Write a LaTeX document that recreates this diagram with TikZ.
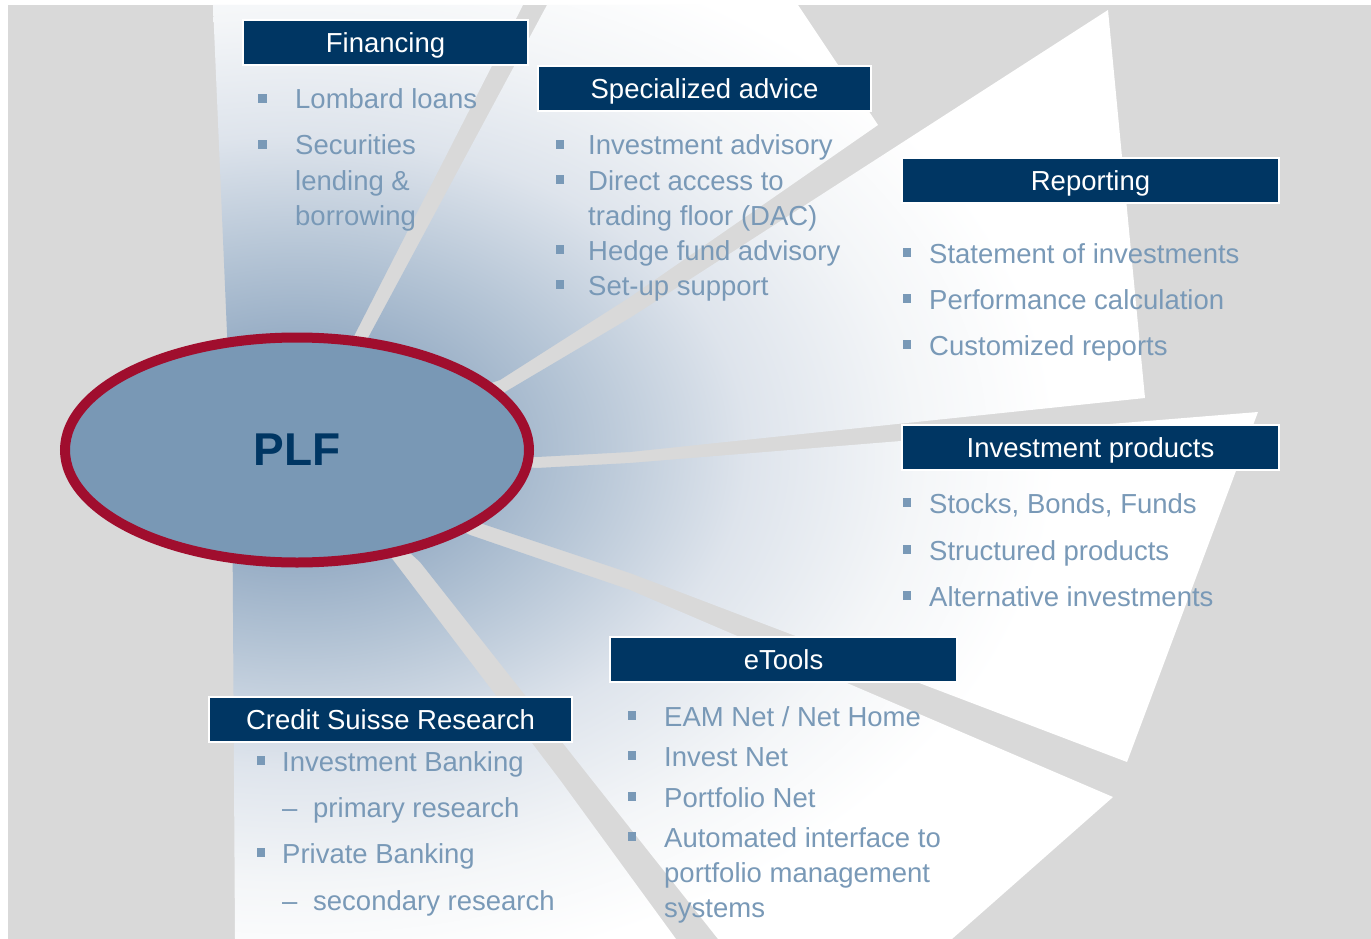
\documentclass[tikz,border=0pt]{standalone}
\usepackage{fontspec}
\setmainfont{Liberation Sans}
\usetikzlibrary{shapes.geometric}

\definecolor{bggray}{RGB}{217,217,217}
\definecolor{csnavy}{RGB}{0,54,99}
\definecolor{itemblue}{RGB}{121,153,183}
\definecolor{plffill}{RGB}{121,152,181}
\definecolor{plfred}{RGB}{160,14,46}
\definecolor{fan0}{RGB}{122,150,180}
\definecolor{fan1}{RGB}{142,166,192}
\definecolor{fan2}{RGB}{180,196,213}
\definecolor{fan3}{RGB}{222,228,236}
\definecolor{fan4}{RGB}{244,246,248}

\pgfdeclareradialshading{fanglow}{\pgfpoint{0bp}{0bp}}{color(0bp)=(fan0); color(2.73bp)=(fan1); color(6.36bp)=(fan2); color(10.23bp)=(fan3); color(14.1bp)=(fan4); color(17.3bp)=(white); color(50bp)=(white)}

\newcommand{\bigfont}{\fontsize{27.5}{33}\selectfont}
\tikzstyle{headbox}=[rectangle,fill=csnavy,draw=white,line width=1.2pt,text=white,minimum height=45pt,inner sep=0pt,text height=19.7pt,text depth=0pt,font=\bigfont]
\tikzstyle{item}=[anchor=base west,inner sep=0pt,text=itemblue,font=\bigfont]
\tikzstyle{bul}=[rectangle,fill=itemblue,minimum size=8.5pt,inner sep=0pt]

\begin{document}
\begin{tikzpicture}[x=1pt,y=-1pt]

\useasboundingbox (0,0) rectangle (1371,939);
\fill[white] (0,0) rectangle (1371,939);
\fill[bggray] (8,5) rectangle (1371,939);

\coordinate (c) at (297,450);

% the six blades of the fan, shaded from the middle outwards
\begin{scope}
  \clip (213,5) -- (523,5) -- (353,338) -- (c) -- (232,450) -- cycle
        (c) -- (368,338) -- (547,5) -- (798,5) -- (878,125) -- (630,297) -- (500,380) -- cycle
        (c) -- (500,395) -- (630,318) -- (1108,10) -- (1145,398) -- (630,452) -- (537,457) -- cycle
        (c) -- (537,468) -- (630,463) -- (1258,412) -- (1127,762) -- (630,573) -- (480,523) -- cycle
        (c) -- (470,535) -- (630,590) -- (1113,797) -- (952,939) -- (718,939) -- (592,780) -- (420,562) -- cycle
        (c) -- (393,560) -- (560,780) -- (676,939) -- (235,939) -- (232,450) -- cycle;
  \shade[shading=fanglow] (c) ellipse [x radius=1100, y radius=770];
\end{scope}

\node[ellipse,draw=plfred,line width=10pt,fill=plffill,minimum width=464pt,minimum height=225pt,inner sep=0pt,text=csnavy,font=\fontsize{46}{50}\selectfont\bfseries] (plf) at (c) {PLF};

\foreach \name/\x/\y/\w/\txt in {fin/385.5/42.5/285/Financing, spec/704.5/88.5/333/Specialized advice, rep/1090.5/180.5/377/Reporting, invp/1090.5/447.5/377/Investment products, etl/783.5/659.5/347/eTools, csr/390.5/719.5/363/Credit Suisse Research}
    \node[headbox,minimum width=\w pt] (\name) at (\x,\y) {\txt};

% Financing
\foreach \name/\y/\txt in {fin1/109/Lombard loans, fin2/155/Securities, fin3/190/lending \&, fin4/225/borrowing}
    \node[item] (\name) at (295,\y) {\txt};
\foreach \y in {109,155}
    \node[bul] (finb\y) at (262.5,\y-10.5) {};

% Specialized advice
\foreach \name/\y/\txt in {spec1/155/Investment advisory, spec2/190/Direct access to, spec3/225/trading floor (DAC), spec4/260/Hedge fund advisory, spec5/295/Set-up support}
    \node[item] (\name) at (588,\y) {\txt};
\foreach \y in {155,190,260,295}
    \node[bul] (specb\y) at (560,\y-10.5) {};

% Reporting
\foreach \name/\y/\txt in {rep1/263/Statement of investments, rep2/309/Performance calculation, rep3/355/Customized reports}
    \node[item] (\name) at (929,\y) {\txt};
\foreach \y in {263,309,355}
    \node[bul] (repb\y) at (907,\y-10.5) {};

% Investment products
\foreach \name/\y/\txt in {inv1/513/{Stocks, Bonds, Funds}, inv2/560/Structured products, inv3/606/Alternative investments}
    \node[item] (\name) at (929,\y) {\txt};
\foreach \y in {513,560,606}
    \node[bul] (invb\y) at (907,\y-10.5) {};

% eTools
\foreach \name/\y/\txt in {et1/726/{EAM Net / Net Home}, et2/766/Invest Net, et3/807/Portfolio Net, et4/847/Automated interface to, et5/882/portfolio management, et6/917/systems}
    \node[item] (\name) at (664,\y) {\txt};
\foreach \y in {726,766,807,847}
    \node[bul] (etb\y) at (632,\y-10.5) {};

% Credit Suisse Research
\foreach \name/\y/\txt in {cs1/771/Investment Banking, cs3/863/Private Banking}
    \node[item] (\name) at (282,\y) {\txt};
\foreach \y in {771,863}
    \node[bul] (csb\y) at (261,\y-10.5) {};
\foreach \name/\y/\txt in {cs2/817/primary research, cs4/910/secondary research}
    \node[item] (\name) at (313,\y) {\txt};
\foreach \y in {817,910}
    \node[item] (csd\y) at (282,\y) {\textendash};

\end{tikzpicture}
\end{document}
